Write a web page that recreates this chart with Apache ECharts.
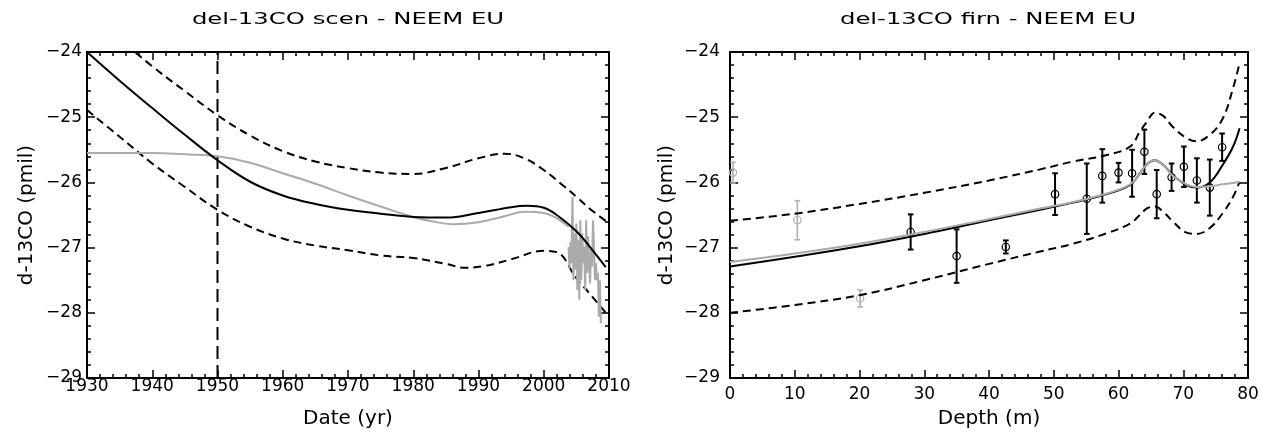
<!DOCTYPE html>
<html>
<head>
<meta charset="utf-8">
<script src="https://cdn.jsdelivr.net/npm/echarts@6/dist/echarts.min.js"></script>
<style>
  html, body { margin: 0; padding: 0; background: #fff; }
  #chart { width: 1270px; height: 437px; }
</style>
</head>
<body>
<div id="chart"></div>
<script>
// ---- left panel: scenario vs date ----
var scenYears = [1930, 1935, 1940, 1945, 1950, 1955, 1960, 1965, 1970, 1975, 1980, 1985, 1990, 1995, 1997.5, 2000, 2002, 2005, 2007, 2009.5];
var scenBest  = [-24.0, -24.44, -24.86, -25.27, -25.66, -25.99, -26.2, -26.33, -26.42, -26.48, -26.53, -26.54, -26.47, -26.38, -26.36, -26.39, -26.5, -26.75, -26.98, -27.3];

var upperYears = [1930, 1935, 1940, 1945, 1950, 1955, 1960, 1965, 1970, 1975, 1980, 1985, 1990, 1994, 1997, 2000, 2003, 2005, 2007, 2009.5];
var scenUpper  = [-23.35, -23.8, -24.22, -24.6, -24.97, -25.28, -25.52, -25.68, -25.78, -25.85, -25.87, -25.78, -25.63, -25.56, -25.63, -25.81, -26.05, -26.22, -26.4, -26.59];

var lowerYears = [1930, 1935, 1940, 1945, 1950, 1955, 1960, 1965, 1970, 1975, 1980, 1985, 1988, 1991, 1995, 2000, 2002, 2005, 2007, 2009.5];
var scenLower  = [-24.89, -25.3, -25.71, -26.07, -26.42, -26.68, -26.86, -26.97, -27.04, -27.12, -27.16, -27.25, -27.31, -27.28, -27.18, -27.05, -27.07, -27.47, -27.7, -28.0];

var grayYears = [1930, 1935, 1940, 1945, 1950, 1955, 1960, 1965, 1970, 1975, 1980, 1983, 1986, 1990, 1994, 1997, 2000, 2002, 2003.8];
var scenGray  = [-25.55, -25.55, -25.55, -25.57, -25.6, -25.7, -25.86, -26.02, -26.2, -26.37, -26.53, -26.6, -26.64, -26.61, -26.52, -26.45, -26.47, -26.55, -26.68];

var measYears = [2003.8, 2003.95, 2004.1, 2004.25, 2004.4, 2004.55, 2004.7, 2004.85, 2005.0, 2005.15, 2005.3, 2005.45,
                 2005.6, 2005.75, 2005.9, 2006.05, 2006.2, 2006.35, 2006.5, 2006.65, 2006.8, 2006.95, 2007.1, 2007.25,
                 2007.4, 2007.55, 2007.7, 2007.85, 2008.0, 2008.15, 2008.3, 2008.45, 2008.6, 2008.75];
var measVals  = [-26.99, -27.32, -26.91, -27.24, -26.22, -27.5, -26.78, -27.34, -26.63, -27.65, -26.88, -27.8,
                 -26.58, -27.5, -26.78, -27.24, -26.99, -27.65, -26.58, -27.39, -26.83, -27.24, -27.55, -26.99,
                 -27.29, -26.58, -26.99, -27.5, -27.24, -27.5, -27.39, -28.06, -27.5, -28.16];

var refDate = 1950;

// ---- right panel: firn vs depth ----
var firnDepth = [0, 10, 20, 30, 40, 47.9, 53, 58.2, 61.8, 63.3, 64.4, 65.6, 66.9, 68.4, 70.5, 72, 74.1, 76.1, 77.7, 78.7];
var firnBest  = [-27.29, -27.14, -26.98, -26.79, -26.58, -26.42, -26.31, -26.18, -26.04, -25.86, -25.72, -25.66, -25.73, -25.89, -26.04, -26.08, -26.0, -25.73, -25.45, -25.17];
var firnGray  = [-27.22, -27.09, -26.94, -26.76, -26.56, -26.4, -26.3, -26.17, -26.03, -25.86, -25.72, -25.66, -25.73, -25.9, -26.03, -26.07, -26.06, -26.03, -26.01, -25.99];
var firnUpper = [-26.59, -26.48, -26.33, -26.16, -25.97, -25.8, -25.68, -25.58, -25.45, -25.22, -25.07, -24.93, -24.98, -25.15, -25.32, -25.37, -25.27, -25.02, -24.55, -24.17];
var firnLower = [-28.0, -27.88, -27.73, -27.5, -27.25, -27.06, -26.94, -26.78, -26.63, -26.5, -26.4, -26.37, -26.45, -26.6, -26.77, -26.79, -26.7, -26.47, -26.22, -25.99];

var obsDepth = [27.9, 35.0, 42.6, 50.2, 55.1, 57.5, 60.0, 62.1, 64.0, 65.9, 68.2, 70.1, 72.1, 74.1, 76.0];
var obsVal   = [-26.76, -27.13, -26.99, -26.18, -26.25, -25.9, -25.85, -25.86, -25.53, -26.18, -25.92, -25.76, -25.97, -26.08, -25.46];
var obsErr   = [0.27, 0.41, 0.1, 0.32, 0.54, 0.41, 0.15, 0.36, 0.34, 0.37, 0.21, 0.31, 0.34, 0.43, 0.21];

var rejDepth = [0.46, 10.4, 20.1];
var rejVal   = [-25.85, -26.58, -27.78];
var rejErr   = [0.16, 0.3, 0.13];

var yTicks = [-29, -28, -27, -26, -25, -24];

function pairs(xs, ys) {
  return xs.map(function (x, i) { return [x, ys[i]]; });
}
function triples(xs, ys, es) {
  return xs.map(function (x, i) { return [x, ys[i], es[i]]; });
}

var FONT = 'DejaVu Sans';
var INK = '#000';
var GRAY = '#aaaaaa';

function plain(v) { return String(v); }
function minus(v) { return String(v).replace('-', '\u2212'); }

function xAxes(grid, min, max, name, labelMargin) {
  var common = {
    gridIndex: grid, type: 'value', min: min, max: max, interval: 10,
    axisLine: { onZero: false, lineStyle: { color: INK, width: 2 } },
    axisTick: { inside: true, length: 8, lineStyle: { color: INK, width: 1.5 } },
    minorTick: { show: true, splitNumber: 5, length: 4, lineStyle: { color: INK, width: 1.5 } },
    splitLine: { show: false }
  };
  var bottom = Object.assign({}, common, {
    position: 'bottom', name: name, nameLocation: 'middle', nameGap: 31,
    nameTextStyle: { fontFamily: FONT, fontSize: 20, color: INK },
    axisLabel: { fontFamily: FONT, fontSize: 17, color: INK, margin: labelMargin, formatter: plain }
  });
  var top = Object.assign({}, common, { position: 'top', axisLabel: { show: false } });
  return [bottom, top];
}
function yAxes(grid, nameGap, labelMargin) {
  var common = {
    gridIndex: grid, type: 'value', min: yTicks[0], max: yTicks[yTicks.length - 1], interval: 1,
    axisLine: { onZero: false, lineStyle: { color: INK, width: 2 } },
    axisTick: { inside: true, length: 8, lineStyle: { color: INK, width: 1.5 } },
    minorTick: { show: true, splitNumber: 5, length: 4, lineStyle: { color: INK, width: 1.5 } },
    splitLine: { show: false }
  };
  var left = Object.assign({}, common, {
    position: 'left', name: 'd-13CO (pmil)', nameLocation: 'middle', nameGap: nameGap,
    nameTextStyle: { fontFamily: FONT, fontSize: 20, color: INK },
    axisLabel: { fontFamily: FONT, fontSize: 17, color: INK, margin: labelMargin, formatter: minus }
  });
  var right = Object.assign({}, common, { position: 'right', axisLabel: { show: false } });
  return [left, right];
}

function line(xi, yi, data, color, dash, smooth) {
  return {
    type: 'line', xAxisIndex: xi, yAxisIndex: yi, data: data,
    showSymbol: false, symbol: 'none', smooth: smooth, silent: true,
    lineStyle: { color: color, width: 2, type: dash || 'solid' }
  };
}

function errorBars(color, lw) {
  return function (params, api) {
    var x = api.value(0), y = api.value(1), e = api.value(2);
    var c = api.coord([x, y]);
    var hi = api.coord([x, y + e]);
    var lo = api.coord([x, y - e]);
    var cap = 2.8;
    var st = { stroke: color, lineWidth: lw, fill: null };
    return {
      type: 'group',
      children: [
        { type: 'line', shape: { x1: c[0], y1: hi[1], x2: c[0], y2: lo[1] }, style: st },
        { type: 'line', shape: { x1: c[0] - cap, y1: hi[1], x2: c[0] + cap, y2: hi[1] }, style: st },
        { type: 'line', shape: { x1: c[0] - cap, y1: lo[1], x2: c[0] + cap, y2: lo[1] }, style: st },
        { type: 'circle', shape: { cx: c[0], cy: c[1], r: 3.7 }, style: { stroke: color, lineWidth: 1.2, fill: 'rgba(0,0,0,0)' } }
      ]
    };
  };
}

function titleText(text, cx) {
  return {
    type: 'text', x: cx, y: 20, scaleX: 1.52, silent: true,
    style: {
      text: text, fontFamily: FONT, fontSize: 16, fill: INK,
      align: 'center', verticalAlign: 'middle', textAlign: 'center', textVerticalAlign: 'middle'
    }
  };
}

var chart = echarts.init(document.getElementById('chart'), null, { renderer: 'canvas' });

var xs = xAxes(0, 1930, 2010, 'Date (yr)', 0).concat(xAxes(1, 0, 80, 'Depth (m)', 8));
var ys = yAxes(0, 50, 5).concat(yAxes(1, 53, 10));

var option = {
  animation: false,
  backgroundColor: '#fff',
  graphic: [
    titleText('del-13CO scen - NEEM EU', 348),
    titleText('del-13CO firn - NEEM EU', 988)
  ],
  grid: [
    { left: 87, top: 52, width: 522, height: 326 },
    { left: 730, top: 52, width: 518, height: 326 }
  ],
  xAxis: xs,
  yAxis: ys,
  series: [
    // left panel
    line(0, 0, pairs(upperYears, scenUpper), INK, [8, 5], 0.4),
    line(0, 0, pairs(lowerYears, scenLower), INK, [8, 5], 0.4),
    line(0, 0, [[refDate, yTicks[0]], [refDate, yTicks[yTicks.length - 1]]], INK, [13, 6], false),
    line(0, 0, pairs(grayYears, scenGray), GRAY, 'solid', 0.4),
    line(0, 0, pairs(measYears, measVals), GRAY, 'solid', false),
    line(0, 0, pairs(scenYears, scenBest), INK, 'solid', 0.4),

    // right panel
    line(2, 2, pairs(firnDepth, firnUpper), INK, [8, 5], 0.4),
    line(2, 2, pairs(firnDepth, firnLower), INK, [8, 5], 0.4),
    line(2, 2, pairs(firnDepth, firnBest), INK, 'solid', 0.4),
    line(2, 2, pairs(firnDepth, firnGray), GRAY, 'solid', 0.4),
    {
      type: 'custom', xAxisIndex: 2, yAxisIndex: 2, silent: true,
      renderItem: errorBars('#b0b0b0', 1.6),
      data: triples(rejDepth, rejVal, rejErr)
    },
    {
      type: 'custom', xAxisIndex: 2, yAxisIndex: 2, silent: true,
      renderItem: errorBars(INK, 2),
      data: triples(obsDepth, obsVal, obsErr)
    }
  ]
};

chart.setOption(option);
</script>
</body>
</html>
